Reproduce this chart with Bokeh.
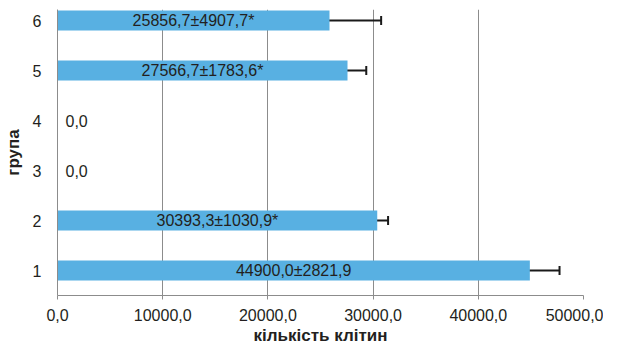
from bokeh.plotting import figure
from bokeh.models import Range1d, FixedTicker, ColumnDataSource, Whisker, TeeHead
from bokeh.embed import file_html
from bokeh.resources import INLINE
from bokeh.core.properties import value

# ---- data ----
groups = [1, 2, 3, 4, 5, 6]
means = [44900.0, 30393.3, 0.0, 0.0, 27566.7, 25856.7]
errors = [2821.9, 1030.9, 0.0, 0.0, 1783.6, 4907.7]
marks = ["", "*", "", "", "*", "*"]
x_ticks = [0, 10000, 20000, 30000, 40000, 50000]
x_title = "кількість клітин"
y_title = "група"

FONT = "Liberation Sans"
TXT = "#231f20"
GRID = "#8c8c8c"
BAR = "#58b0e2"

def fmt(v):
    return f"{v:.1f}".replace(".", ",")

labels = []
for m, e, s in zip(means, errors, marks):
    if m == 0:
        labels.append(fmt(m))
    else:
        labels.append(fmt(m) + "±" + fmt(e) + s)

lab_x = [m / 2 for m in means]
lab_align = ["center" if m > 0 else "left" for m in means]
lab_off = [0 if m > 0 else 8 for m in means]

src = ColumnDataSource(dict(y=groups, m=means, lab=labels, lx=lab_x,
                            al=lab_align, xo=lab_off))
nz = [i for i, m in enumerate(means) if m > 0]
err_src = ColumnDataSource(dict(
    y=[groups[i] for i in nz],
    lo=[means[i] - errors[i] for i in nz],
    hi=[means[i] + errors[i] for i in nz],
))

p = figure(width=603, height=347, output_backend="svg", toolbar_location=None,
           x_range=Range1d(0, 50000), y_range=Range1d(0.5, 6.22),
           min_border_left=51, min_border_right=20, min_border_top=9,
           min_border_bottom=10)
p.outline_line_color = None
p.background_fill_color = "white"
p.border_fill_color = "white"

p.hbar(y="y", right="m", left=0, height=0.4, source=src, color=BAR, line_color=None)

w = Whisker(base="y", lower="lo", upper="hi", dimension="width", source=err_src,
            line_color="#1a1a1a", line_width=2,
            lower_head=TeeHead(size=9, line_color="#1a1a1a", line_width=2),
            upper_head=TeeHead(size=9, line_color="#1a1a1a", line_width=2))
p.add_layout(w)

p.text(x="lx", y="y", text="lab", source=src, text_align="al", x_offset="xo",
       text_baseline="middle", text_font=value(FONT), text_font_size="16px",
       text_color=TXT)

# x axis
p.xaxis.ticker = FixedTicker(ticks=x_ticks)
p.xaxis.major_label_overrides = {t: fmt(t) for t in x_ticks}
p.xaxis.axis_line_color = GRID
p.xaxis.major_tick_line_color = GRID
p.xaxis.major_tick_out = 4
p.xaxis.major_tick_in = 0
p.xaxis.minor_tick_line_color = None
p.xaxis.major_label_standoff = 9
p.xaxis.axis_label = x_title
p.xaxis.axis_label_standoff = 2

# y axis
p.yaxis.ticker = FixedTicker(ticks=groups)
p.yaxis.major_label_overrides = {g: str(g) for g in groups}
p.yaxis.axis_line_color = GRID
p.yaxis.major_tick_line_color = None
p.yaxis.minor_tick_line_color = None
p.yaxis.major_label_standoff = 10
p.yaxis.axis_label = y_title
p.yaxis.axis_label_standoff = 7

for ax in (p.xaxis[0], p.yaxis[0]):
    ax.major_label_text_font = FONT
    ax.major_label_text_font_size = "16px"
    ax.major_label_text_color = TXT
    ax.axis_label_text_font = FONT
    ax.axis_label_text_font_size = "17px"
    ax.axis_label_text_font_style = "bold"
    ax.axis_label_text_color = TXT

p.xgrid.grid_line_color = GRID
p.xgrid.grid_line_width = 1
p.xgrid.ticker = FixedTicker(ticks=x_ticks)
p.ygrid.grid_line_color = None

open("out.html", "w").write(file_html(p, INLINE))
